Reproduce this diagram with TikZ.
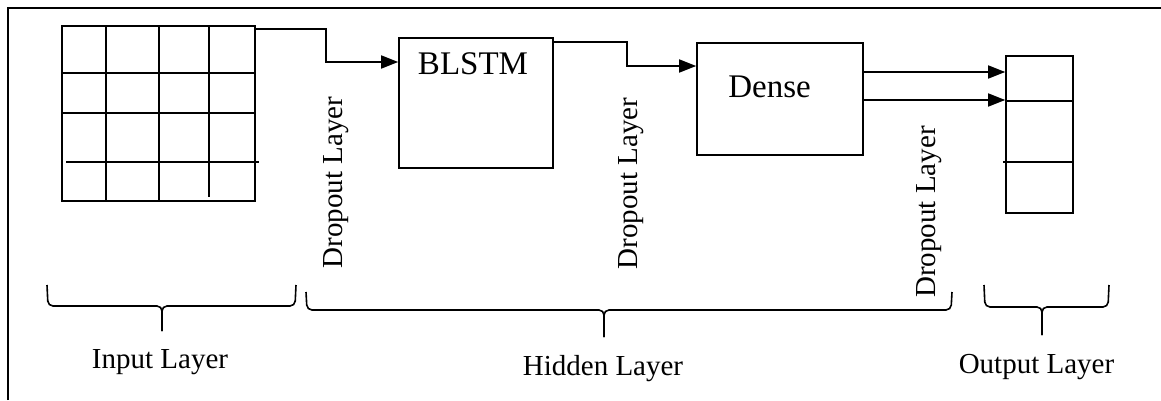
\documentclass[tikz,border=0pt]{standalone}
\usepackage{fontspec}
\setmainfont{Liberation Serif}
\usetikzlibrary{arrows.meta}
\begin{document}
\begin{tikzpicture}[x=1pt,y=1pt,
  line width=1.6pt,
  box/.style={draw, inner sep=0pt},
  arr/.style={-{Triangle[length=17pt,width=13pt]}},
  brace/.style={rounded corners=5pt},
  lbl/.style={inner sep=0pt, anchor=base, font=\fontsize{29}{32}\selectfont},
  drop/.style={inner sep=0pt, anchor=base, rotate=90, font=\fontsize{29}{32}\selectfont},
  title/.style={inner sep=0pt, anchor=base, font=\fontsize{33}{36}\selectfont}]
\useasboundingbox (0,0) rectangle (1161,400);

% outer frame
\draw (8,0) -- (8,392) -- (1161,392);

% input grid
\node[box, minimum width=193pt, minimum height=175pt] (grid) at (158.5,286.5) {};
\draw (106,374) -- (106,199);
\draw (159,374) -- (159,199);
\draw (209,374) -- (209,203);
\draw (62,327) -- (255,327);
\draw (62,287) -- (255,287);
\draw (66,238) -- (259,238);

% hidden blocks
\node[box, minimum width=154pt, minimum height=130pt] (blstm) at (476,297) {};
\node[title] (blstmtxt) at (473,326) {BLSTM};
\node[box, minimum width=166pt, minimum height=112pt] (dense) at (780,301) {};
\node[title] (densetxt) at (769.5,303) {Dense};

% output vector
\node[box, minimum width=67pt, minimum height=157pt] (out) at (1039.5,265.5) {};
\draw (1006,299) -- (1073,299);
\draw (1003,238) -- (1073,238);

% connectors
\draw[arr] ([yshift=-4pt]grid.north east) -| ([xshift=-72pt,yshift=41pt]blstm.west) -- ([yshift=41pt]blstm.west);
\draw[arr] ([yshift=-5pt]blstm.north east) -| ([xshift=-69pt,yshift=33pt]dense.west) -- ([yshift=33pt]dense.west);
\coordinate (d1) at ([yshift=27pt]dense.east);
\coordinate (d2) at ([yshift=-1pt]dense.east);
\draw[arr] (d1) -- (d1 -| out.west);
\draw[arr] (d2) -- (d2 -| out.west);

% dropout labels
\node[drop] (drop1) at (342,217.5) {Dropout Layer};
\node[drop] (drop2) at (637,216.5) {Dropout Layer};
\node[drop] (drop3) at (935,188) {Dropout Layer};

% braces
\draw[brace] (47,115) -- (48,94) -- (162,94) -- (162,69);
\draw[brace] (296,115) -- (295,94) -- (162,94) -- (162,69);
\draw[brace] (306,108) -- (307,90) -- (604,90) -- (604,63);
\draw[brace] (952,108) -- (951,90) -- (604,90) -- (604,63);
\draw[brace] (984,115) -- (985,93) -- (1042,93) -- (1042,65);
\draw[brace] (1109,115) -- (1108,93) -- (1042,93) -- (1042,65);

% layer names
\node[lbl] (inlbl) at (160,32) {Input Layer};
\node[lbl] (hidlbl) at (603,25) {Hidden Layer};
\node[lbl] (outlbl) at (1036.5,27) {Output Layer};
\end{tikzpicture}
\end{document}
